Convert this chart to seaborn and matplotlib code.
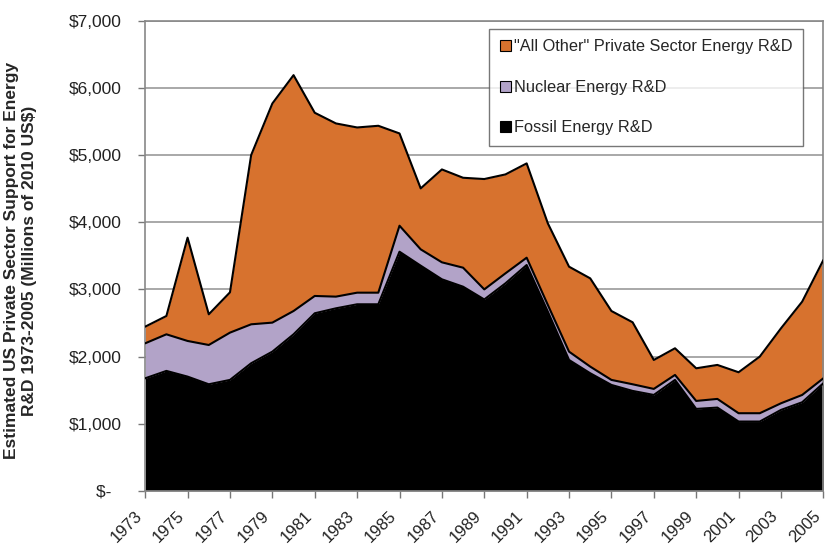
import numpy as np
import pandas as pd
import matplotlib
matplotlib.use("Agg")
import matplotlib.pyplot as plt
import seaborn as sns
from matplotlib.patches import Patch

years = list(range(1973, 2006))
fossil = [1676, 1786, 1701, 1587, 1652, 1900, 2073, 2331, 2644, 2718, 2778, 2778, 3561, 3353, 3150, 3040,
          2850, 3090, 3363, 2668, 1949, 1751, 1577, 1488, 1428, 1652, 1220, 1240, 1032, 1032, 1205, 1319, 1602]
nuclear = [521, 545, 531, 585, 704, 580, 432, 347, 258, 174, 173, 173, 387, 243, 253, 283,
           150, 149, 109, 100, 124, 99, 75, 99, 90, 74, 119, 129, 124, 124, 99, 109, 74]
other = [248, 273, 1538, 457, 600, 2520, 3263, 3512, 2728, 2579, 2460, 2485, 1374, 908, 1383, 1339,
         1643, 1473, 1404, 1215, 1265, 1314, 1026, 923, 431, 397, 486, 506, 610, 843, 1116, 1389, 1761]

labels = ['"All Other" Private Sector Energy R&D', "Nuclear Energy R&D", "Fossil Energy R&D"]
col_other = "#D7722E"
col_nuc = "#B2A3C8"
col_fossil = "#000000"

sns.set_theme(style="white")
plt.rcParams["font.family"] = ["Liberation Sans", "DejaVu Sans"]

df = pd.DataFrame({"year": years, "fossil": fossil, "nuclear": nuclear, "other": other})
df["top_fossil"] = df["fossil"]
df["top_nuc"] = df["fossil"] + df["nuclear"]
df["top_all"] = df["top_nuc"] + df["other"]

fig = plt.figure(figsize=(8.25, 5.46), dpi=100)
ax = fig.add_axes([0.176, 0.101, 0.822, 0.861])

ax.stackplot(df["year"], df["fossil"], df["nuclear"], df["other"],
             colors=[col_fossil, col_nuc, col_other], linewidth=0, zorder=2)
for c in ["top_fossil", "top_nuc", "top_all"]:
    sns.lineplot(data=df, x="year", y=c, ax=ax, color="black", linewidth=1.5, zorder=3)

ax.set_xlim(1973, 2005)
ax.set_ylim(0, 7000)
ax.set_yticks(np.arange(0, 7001, 1000))
ax.set_yticklabels(["\\$-  "] + [f"\\${v:,}" for v in range(1000, 7001, 1000)], fontsize=12.5, color="#222222")
ax.set_xticks(list(range(1973, 2006, 2)))
ax.set_xticklabels([str(y) for y in range(1973, 2006, 2)], rotation=45, ha="right", va="bottom",
                   rotation_mode="anchor", fontsize=12, color="#222222")
ax.yaxis.grid(True, color="#9a9a9a", linewidth=1.2, zorder=0)
ax.set_axisbelow(True)
ax.tick_params(axis="both", which="both", direction="out", length=5, width=1, color="#777777",
               bottom=True, left=True)
ax.tick_params(axis="y", pad=12)
ax.tick_params(axis="x", pad=15)
for s in ["left", "bottom", "top", "right"]:
    ax.spines[s].set_color("#888888")
    ax.spines[s].set_linewidth(1.2)
ax.set_xlabel("")
ax.set_ylabel("Estimated US Private Sector Support for Energy\nR&D 1973-2005 (Millions of 2010 US\\$)",
              fontsize=12.5, fontweight="bold", linespacing=1.2)
ax.yaxis.set_label_coords(-0.16, 0.49)

handles = [Patch(facecolor=col_other, edgecolor="black", linewidth=0.8),
           Patch(facecolor=col_nuc, edgecolor="black", linewidth=0.8),
           Patch(facecolor=col_fossil, edgecolor="black", linewidth=0.8)]
leg = ax.legend(handles, labels, loc="upper right", bbox_to_anchor=(0.97, 0.983), fontsize=11.8,
                frameon=True, fancybox=False, labelspacing=1.55, handlelength=0.65, handleheight=0.65,
                handletextpad=0.2, borderpad=0.65, borderaxespad=0.0)
leg.get_frame().set_edgecolor("#555555")
leg.get_frame().set_linewidth(1.0)
leg.set_zorder(5)

fig.savefig("out.png", dpi=100)
